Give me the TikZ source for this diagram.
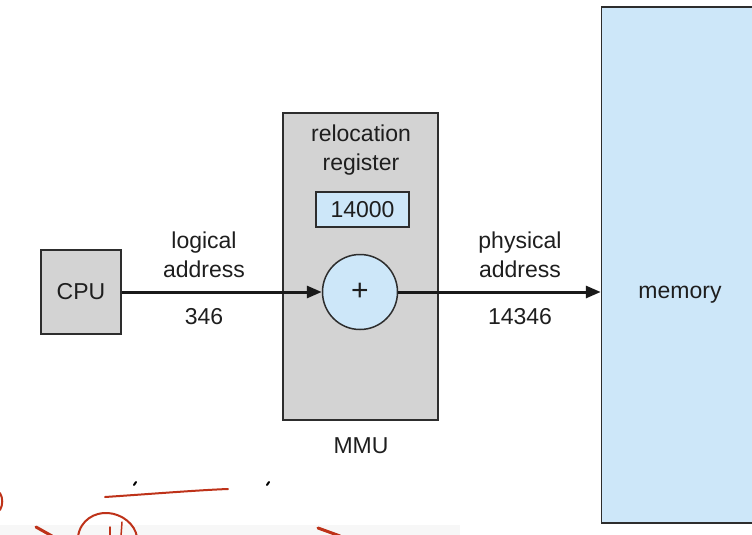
\documentclass[tikz,border=0pt]{standalone}
\usepackage{fontspec}
\setmainfont{Liberation Sans}
\usetikzlibrary{arrows.meta}
\definecolor{boxgray}{RGB}{211,211,211}
\definecolor{lblue}{RGB}{205,231,249}
\definecolor{edge}{RGB}{45,45,45}
\definecolor{txt}{RGB}{30,30,30}
\definecolor{scrib}{RGB}{190,50,25}
\begin{document}
\begin{tikzpicture}[x=1pt,y=-1pt,
  every node/.style={font=\fontsize{23}{27}\selectfont, text=txt},
  unit/.style={draw=edge, line width=1.5pt, inner sep=0pt},
  lbl/.style={align=center, inner sep=0pt},
  flow/.style={draw=black!90, line width=3pt, -{Triangle[length=15pt,width=12pt]}},
  ink/.style={draw=scrib, line width=2pt, line cap=round}
]
\useasboundingbox (0,0) rectangle (752,535);
\fill[white] (0,0) rectangle (752,535);
\fill[black!3] (0,525) rectangle (460,535);

% memory
\node[unit, fill=lblue, minimum width=157pt, minimum height=516pt] (mem) at (680,265) {};
\node[lbl] (memtxt) at (680,295) {memory};

% CPU
\node[unit, fill=boxgray, minimum width=80pt, minimum height=84pt] (cpu) at (81,292) {CPU};

% MMU
\node[unit, fill=boxgray, minimum width=155pt, minimum height=307pt] (mmu) at (360.5,266.5) {};
\node[lbl] (reltxt) at (361,150) {relocation\\[2pt]register};
\node[unit, fill=lblue, minimum width=93pt, minimum height=35pt] (reg) at (362.5,209.5) {14000};
\node[unit, circle, fill=lblue, minimum size=75pt] (adder) at (360,292) {\fontsize{30}{30}\selectfont\addfontfeature{FakeBold=-0.5}+};
\node[lbl] (mmutxt) at (361,446) {MMU};

% connectors
\draw[flow] (cpu.east) -- (adder.west);
\draw[flow] (adder.east) -- (adder.east -| mem.west);

% labels
\node[lbl] (logtxt) at (204,255) {logical\\[2pt]address};
\node[lbl] (lognum) at (204,317) {346};
\node[lbl] (phystxt) at (520,255) {physical\\[2pt]address};
\node[lbl] (physnum) at (520,317) {14346};

% handwritten scribbles
\draw[ink] (105,497) .. controls (150,494) and (200,490) .. (228,489);
\draw[black, line width=2pt, line cap=round] (134,485) -- (136,482);
\draw[black, line width=2pt, line cap=round] (267,485) -- (269,482);
\draw[ink] (78,537) .. controls (80,520) and (95,512) .. (108,513) .. controls (122,514) and (135,524) .. (137,537);
\draw[ink, line width=1.5pt] (110,527) -- (110,536);
\draw[ink, line width=1.5pt] (122,522) -- (121,536);
\draw[ink, line width=3pt] (36,527) -- (52,536);
\draw[ink, line width=3pt] (318,528) -- (340,536);
\draw[ink] (0,493) .. controls (3,498) and (3,505) .. (0,510);
\end{tikzpicture}
\end{document}
